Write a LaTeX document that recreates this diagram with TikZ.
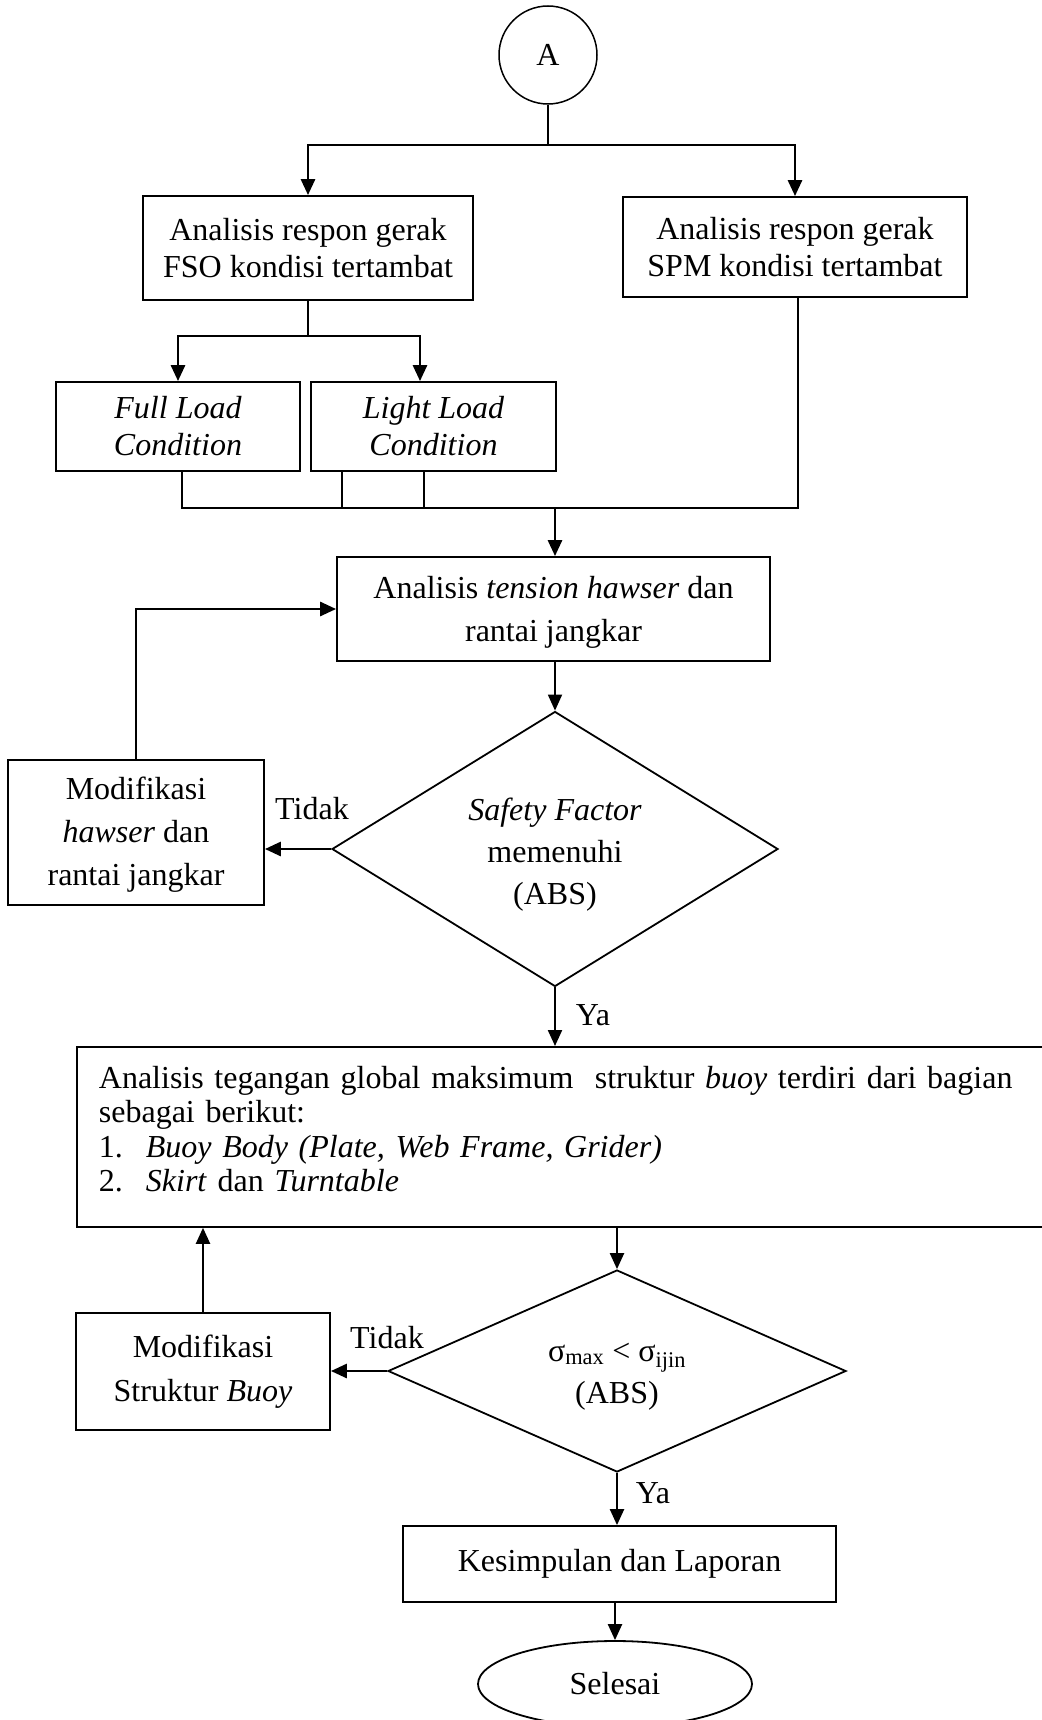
\documentclass[tikz,border=0pt]{standalone}
\usepackage{fontspec}
\setmainfont{Liberation Serif}
\usetikzlibrary{shapes.geometric,arrows.meta}
\begin{document}
\begin{tikzpicture}[x=1pt,y=-1pt,
  every node/.style={font=\fontsize{32}{37}\selectfont},
  box/.style={draw,line width=1.8pt,rectangle,inner sep=0pt,align=center},
  dia/.style={draw,line width=1.8pt,diamond,inner sep=0pt,align=center},
  tip/.style={-{Triangle[length=16pt,width=14pt]}},
  arr/.style={line width=2.8pt,tip},
  tarr/.style={line width=1.8pt,tip},
  marr/.style={line width=2.2pt,tip},
  thinln/.style={line width=1.5pt},
  ln/.style={line width=2.2pt},
  lab/.style={inner sep=0pt}
]
\useasboundingbox (0,0) rectangle (1041,1720);
% nodes
\node[draw,circle,line width=1.5pt,minimum size=98pt,inner sep=0pt] (A) at (548,55) {A};
\node[box,minimum width=330pt,minimum height=104pt] (fso) at (308,248) {Analisis respon gerak\\FSO kondisi tertambat};
\node[box,minimum width=344pt,minimum height=100pt] (spm) at (795,247) {Analisis respon gerak\\SPM kondisi tertambat};
\node[box,minimum width=244pt,minimum height=89pt,font=\fontsize{32}{37}\selectfont\itshape] (full) at (178,426.5) {Full Load\\Condition};
\node[box,minimum width=245pt,minimum height=89pt,font=\fontsize{32}{37}\selectfont\itshape] (light) at (433.5,426.5) {Light Load\\Condition};
\node[box,minimum width=433pt,minimum height=104pt,font=\fontsize{32}{43}\selectfont] (ten) at (553.5,609) {\rule{0pt}{28pt}Analisis \textit{tension hawser} dan\\rantai jangkar};
\node[dia,aspect=1.62,minimum width=446pt,minimum height=275pt,font=\fontsize{32}{42}\selectfont] (d1) at (555,849) {\rule{0pt}{34pt}\textit{Safety Factor}\\memenuhi\\(ABS)};
\node[box,minimum width=256pt,minimum height=145pt,font=\fontsize{32}{43}\selectfont] (mod1) at (136,832.5) {\rule{0pt}{27pt}Modifikasi\\\textit{hawser} dan\\rantai jangkar};
\node[box,anchor=north west,align=left,text width=932pt,inner xsep=22pt,inner ysep=0pt,minimum height=180pt,font=\fontsize{32}{34.5}\selectfont] (big) at (76,1046) {\makebox[932pt][s]{Analisis tegangan global maksimum\ \ struktur \textit{buoy} terdiri dari bagian}\\sebagai berikut:\\\makebox[47pt][l]{1.}\textit{Buoy Body (Plate, Web Frame, Grider)}\\\makebox[47pt][l]{2.}\textit{Skirt} dan \textit{Turntable}\rule[-16pt]{0pt}{1pt}};
\node[dia,aspect=2.27,minimum width=458pt,minimum height=202pt,font=\fontsize{32}{42}\selectfont] (d2) at (617,1371) {\rule{0pt}{29pt}σ\textsubscript{max} < σ\textsubscript{ijin}\\(ABS)};
\node[box,minimum width=254pt,minimum height=117pt,font=\fontsize{32}{44}\selectfont] (mod2) at (203,1371.5) {Modifikasi\\Struktur \textit{Buoy}};
\node[box,minimum width=433pt,minimum height=76pt] (kes) at (619.5,1564) {Kesimpulan dan Laporan};
\node[draw,ellipse,line width=1.8pt,minimum width=274pt,minimum height=86pt,inner sep=0pt] (sel) at (615,1684) {Selesai};
% labels
\node[lab] (t1) at (312,809) {Tidak};
\node[lab] (y1) at (593,1015) {Ya};
\node[lab] (t2) at (387,1338) {Tidak};
\node[lab] (y2) at (653,1493) {Ya};
% connectors
\coordinate (j1) at (548,145);
\draw[thinln] (A.south) -- (j1);
\draw[arr] (j1) -| (fso.north);
\draw[arr] (j1) -| (spm.north);
\coordinate (j2) at (308,336);
\coordinate (lt) at ([xshift=-13.5pt]light.north);
\draw[thinln] (fso.south) -- (j2);
\draw[arr] (j2) -| (full.north);
\draw[arr] (j2) -| (lt);
\coordinate (j3) at (555,508);
\coordinate (fb) at ([xshift=4pt]full.south);
\coordinate (sb) at ([xshift=3pt]spm.south);
\coordinate (l1) at ([xshift=-91.5pt]light.south);
\coordinate (l2) at ([xshift=-9.5pt]light.south);
\draw[ln] (fb) |- (j3);
\draw[ln] (sb) |- (j3);
\draw[ln] (l1) -- (l1 |- j3);
\draw[ln] (l2) -- (l2 |- j3);
\draw[arr] (j3) -- (j3 |- ten.north);
\draw[tarr] (d1.north |- ten.south) -- (d1.north);
\draw[arr] (d1.west) -- (d1.west -| mod1.east);
\draw[arr] (mod1.north) |- (ten.west);
\draw[marr] (d1.south) -- (d1.south |- big.north);
\draw[marr] (d2.north |- big.south) -- (d2.north);
\draw[arr] (d2.west) -- (d2.west -| mod2.east);
\draw[marr] (mod2.north) -- (mod2.north |- big.south);
\draw[marr] (d2.south) -- (d2.south |- kes.north);
\draw[marr] (sel.north |- kes.south) -- (sel.north);
\end{tikzpicture}
\end{document}
